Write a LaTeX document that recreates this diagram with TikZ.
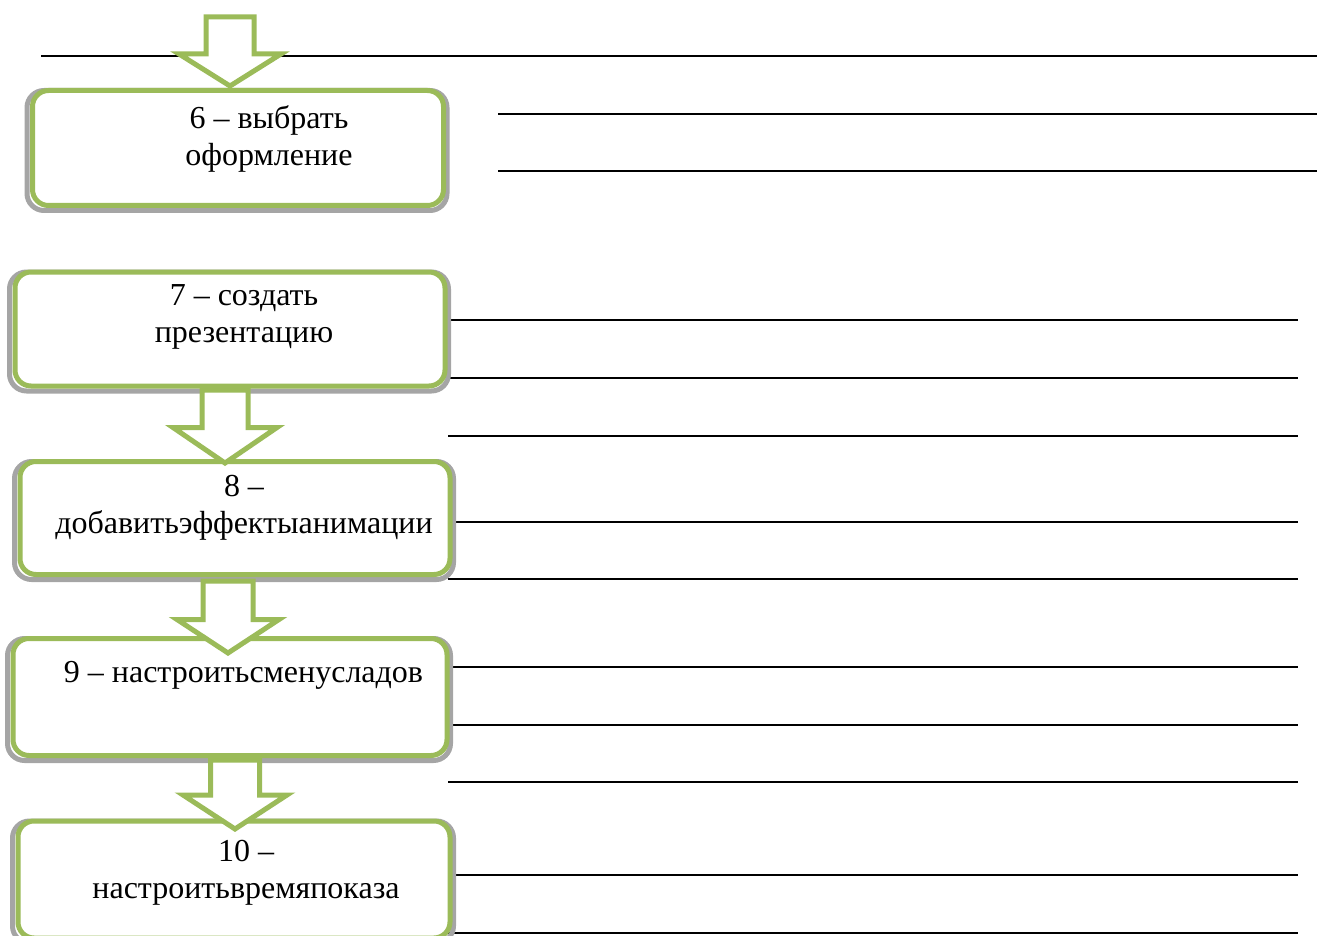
\documentclass[tikz,border=0pt]{standalone}
\usepackage{fontspec}
\setmainfont{Liberation Serif}
\definecolor{grn}{HTML}{9BBB59}
\definecolor{shd}{HTML}{A5A5A5}
\begin{document}
\begin{tikzpicture}[x=1pt,y=-1pt,
  stepbox/.style={draw=grn, line width=5pt, fill=white, rounded corners=16pt, inner sep=0pt},
  shadowbox/.style={draw=shd, line width=5pt, rounded corners=17pt, inner sep=0pt},
  rule/.style={line width=2pt, black},
  lbl/.style={font=\fontsize{32}{37}\selectfont, align=center, inner sep=0pt},
  blk/.style={draw=grn, line width=5pt, fill=white, line join=miter}]
\useasboundingbox (0,0) rectangle (1317,936);

% writing lines
\foreach \y/\xa/\xb in {56/41/1317, 114/498/1317, 171/498/1317,
  320/448/1298, 378/448/1298, 436/448/1298, 522/452/1298, 579/448/1298,
  667/448/1298, 725/448/1298, 782/448/1298, 875/452/1298, 933/448/1298}
  \draw[rule] (\xa,\y) -- (\xb,\y);

% shadows
\node[shadowbox, minimum width=420pt, minimum height=120pt] (s1) at (237,150.5) {};
\node[shadowbox, minimum width=439pt, minimum height=119pt] (s2) at (229,331.5) {};
\node[shadowbox, minimum width=439pt, minimum height=118pt] (s3) at (234,520.5) {};
\node[shadowbox, minimum width=443pt, minimum height=122pt] (s4) at (229,699.5) {};
\node[shadowbox, minimum width=441pt, minimum height=122pt] (s5) at (233,882) {};

% boxes
\node[stepbox, minimum width=411pt, minimum height=115pt] (b1) at (238,148) {};
\node[stepbox, minimum width=430pt, minimum height=114pt] (b2) at (230,329) {};
\node[stepbox, minimum width=430pt, minimum height=113pt] (b3) at (235,518) {};
\node[stepbox, minimum width=434pt, minimum height=117pt] (b4) at (230,697) {};
\node[stepbox, minimum width=432pt, minimum height=117pt] (b5) at (234,879.5) {};

% block arrows
\draw[blk] (206,17) -- (254,17) -- (254,54) -- (281,54) -- (230,86) -- (179,54) -- (206,54) -- cycle;
\draw[blk] (202,390) -- (248,390) -- (248,427.5) -- (277,427.5) -- (225,463) -- (173,427.5) -- (202,427.5) -- cycle;
\draw[blk] (203,581) -- (253,581) -- (253,619.5) -- (279,619.5) -- (228,653) -- (177,619.5) -- (203,619.5) -- cycle;
\draw[blk] (210.5,760) -- (259.5,760) -- (259.5,795) -- (287,795) -- (235,829) -- (183,795) -- (210.5,795) -- cycle;

% labels
\node[lbl] (t1) at (269,139) {6 – выбрать\\оформление};
\node[lbl] (t2) at (244,317) {7 – создать\\презентацию};
\node[lbl] (t3) at (244,507.5) {8 –\\добавитьэффектыанимации};
\node[lbl] (t4) at (243.5,675) {9 – настроитьсменусладов};
\node[lbl] (t5) at (246,872.5) {10 –\\настроитьвремяпоказа};
\end{tikzpicture}
\end{document}
